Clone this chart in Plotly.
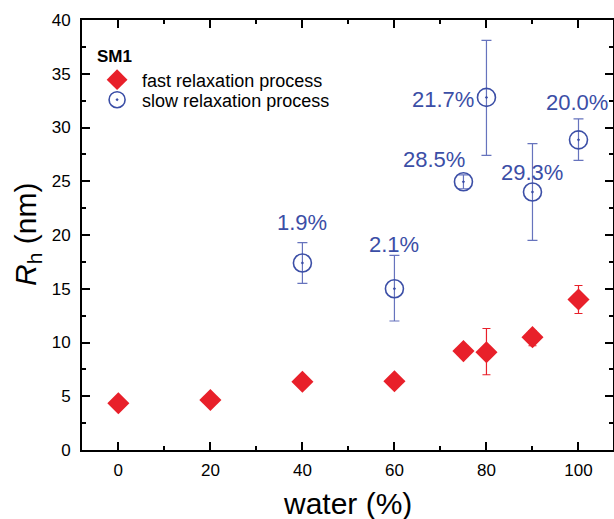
import plotly.graph_objects as go

water_fast = [0, 20, 40, 60, 75, 80, 90, 100]
rh_fast = [4.35, 4.65, 6.35, 6.4, 9.2, 9.1, 10.5, 14.0]
err_fast_plus = [0, 0, 0, 0, 0, 2.2, 0.6, 1.3]
err_fast_minus = [0, 0, 0, 0, 0, 2.1, 0.8, 1.3]

water_slow = [40, 60, 75, 80, 90, 100]
rh_slow = [17.4, 15.0, 24.95, 32.8, 24.0, 28.85]
err_slow_plus = [1.9, 3.1, 0.65, 5.3, 4.5, 1.95]
err_slow_minus = [1.9, 3.0, 0.65, 5.4, 4.5, 1.9]
slow_labels = ["1.9%", "2.1%", "28.5%", "21.7%", "29.3%", "20.0%"]
label_x = [40.0, 60.0, 68.6, 70.5, 89.8, 99.7]
label_y = [21.2, 19.1, 27.0, 32.65, 25.85, 32.3]

red = "#e8202a"
blue = "#3b4ea6"
blue_err = "#6673bd"
font_family = "Liberation Sans, Arial"

fig = go.Figure()
fig.add_trace(go.Scatter(
    x=water_fast, y=rh_fast, mode="markers", name="fast relaxation process",
    legend="legend",
    marker=dict(symbol="diamond", size=17, color=red, line=dict(width=0)),
    error_y=dict(type="data", symmetric=False, array=err_fast_plus,
                 arrayminus=err_fast_minus, color=red, thickness=1.2, width=4),
))
fig.add_trace(go.Scatter(
    x=water_slow, y=rh_slow, mode="markers", name="slow relaxation process",
    legend="legend2",
    marker=dict(symbol="circle-open-dot", size=18, color=blue, line=dict(width=1.6, color=blue)),
    error_y=dict(type="data", symmetric=False, array=err_slow_plus,
                 arrayminus=err_slow_minus, color=blue_err, thickness=1.2, width=5),
))

for t, xx, yy in zip(slow_labels, label_x, label_y):
    fig.add_annotation(x=xx, y=yy, text=t, showarrow=False,
                       font=dict(size=22, color=blue, family=font_family))

# legend header
fig.add_annotation(xref="paper", yref="paper", x=0.024, y=0.914, xanchor="left", yanchor="middle",
                   text="<b>SM1</b>", showarrow=False, font=dict(size=17, color="black"))
# axis titles
fig.add_annotation(xref="paper", yref="paper", x=0.5, y=-0.124, xanchor="center", yanchor="middle",
                   text="water (%)", showarrow=False, font=dict(size=30, color="black"))
fig.add_annotation(xref="paper", yref="paper", x=-0.103, y=0.501, xanchor="center", yanchor="middle",
                   text="<i>R</i><sub>h</sub> (nm)", textangle=-90, showarrow=False,
                   font=dict(size=30, color="black"))

leg_common = dict(xanchor="left", yanchor="middle", bgcolor="rgba(0,0,0,0)",
                  font=dict(size=18, family=font_family), itemsizing="trace", itemwidth=40)

fig.update_layout(
    width=614, height=519,
    margin=dict(l=82, r=1, t=20, b=69, autoexpand=False),
    plot_bgcolor="white", paper_bgcolor="white",
    font=dict(family=font_family, color="black"),
    showlegend=True,
    legend=dict(x=0.019, y=0.8605, **leg_common),
    legend2=dict(x=0.019, y=0.814, **leg_common),
    xaxis=dict(range=[-7.9, 107.5], tickvals=[0, 20, 40, 60, 80, 100],
               ticks="inside", ticklen=8, tickwidth=1.5, tickcolor="black",
               minor=dict(tickvals=[-10, 10, 30, 50, 70, 90], ticks="inside", ticklen=4,
                          tickcolor="black", tickwidth=1.5),
               showline=True, linecolor="black", linewidth=2, mirror="ticks",
               showgrid=False, zeroline=False, tickfont=dict(size=17), automargin=False,
               ticklabelstandoff=4),
    yaxis=dict(range=[0, 40], tickvals=[0, 5, 10, 15, 20, 25, 30, 35, 40],
               ticks="inside", ticklen=8, tickwidth=1.5, tickcolor="black",
               minor=dict(dtick=2.5, ticks="inside", ticklen=4, tickcolor="black", tickwidth=1.5),
               showline=True, linecolor="black", linewidth=2, mirror="ticks",
               showgrid=False, zeroline=False, tickfont=dict(size=17), automargin=False,
               ticklabelstandoff=6),
)

fig.write_html("out.html", config={"displayModeBar": False},
               post_script="document.body.style.margin='0';")
